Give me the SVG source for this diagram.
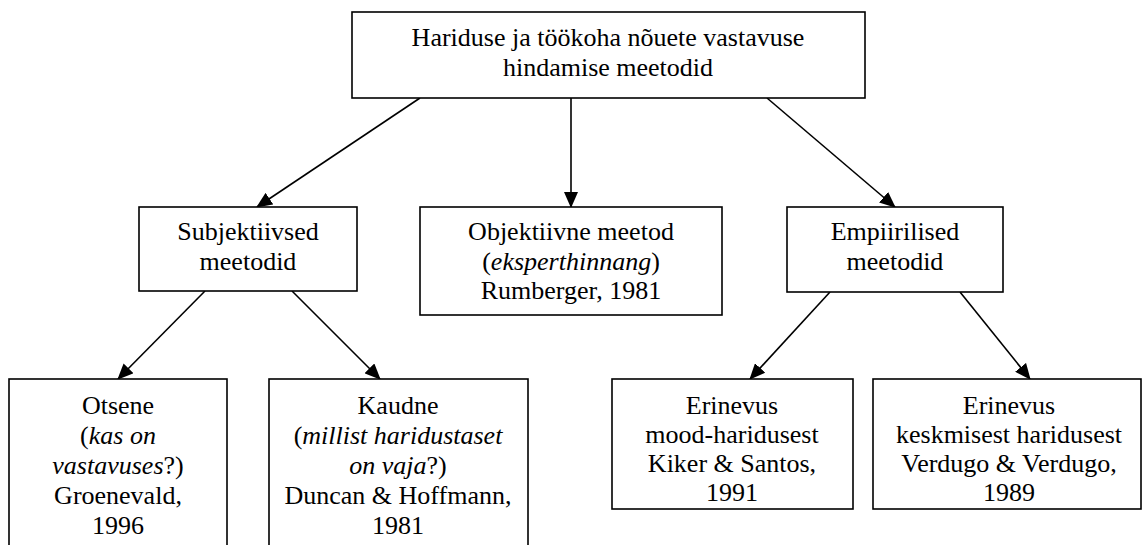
<svg xmlns="http://www.w3.org/2000/svg" width="1143" height="545" viewBox="0 0 1143 545">
<style>
.box{fill:#fff;stroke:#000;stroke-width:1.6}
text{font-family:'Liberation Serif','DejaVu Serif',serif;font-size:26px;fill:#000;text-anchor:middle}
.i{font-style:italic}
.c{stroke:#000;stroke-width:1.6;fill:none;marker-end:url(#ah)}
</style>
<defs>
<marker id="ah" markerUnits="userSpaceOnUse" markerWidth="16" markerHeight="14" refX="15" refY="7" orient="auto">
<path d="M0,0 L16,7 L0,14 z" fill="#000"/>
</marker>
</defs>
<g id="connectors">
<line class="c" x1="420" y1="98" x2="257" y2="207"/>
<line class="c" x1="571" y1="98" x2="571" y2="207"/>
<line class="c" x1="767" y1="98" x2="895" y2="207"/>
<line class="c" x1="205" y1="291" x2="118" y2="379"/>
<line class="c" x1="292" y1="291" x2="380" y2="379"/>
<line class="c" x1="830" y1="292" x2="750" y2="379"/>
<line class="c" x1="960" y1="292" x2="1030" y2="379"/>
</g>
<g id="root">
<rect class="box" x="352" y="12" width="513" height="86"/>
<text x="608" y="46">Hariduse ja töökoha nõuete vastavuse</text>
<text x="608" y="76">hindamise meetodid</text>
</g>
<g id="subjektiivsed">
<rect class="box" x="139" y="207" width="218" height="84"/>
<text x="248" y="240">Subjektiivsed</text>
<text x="248" y="270">meetodid</text>
</g>
<g id="objektiivne">
<rect class="box" x="420" y="207" width="302" height="108"/>
<text x="571" y="240">Objektiivne meetod</text>
<text x="571" y="270">(<tspan class="i">eksperthinnang</tspan>)</text>
<text x="571" y="299">Rumberger, 1981</text>
</g>
<g id="empiirilised">
<rect class="box" x="787" y="207" width="216" height="85"/>
<text x="895" y="240">Empiirilised</text>
<text x="895" y="270">meetodid</text>
</g>
<g id="otsene">
<rect class="box" x="9" y="379" width="218" height="180"/>
<text x="118" y="414">Otsene</text>
<text x="118" y="444">(<tspan class="i">kas on</tspan></text>
<text x="118" y="474"><tspan class="i">vastavuses</tspan>?)</text>
<text x="118" y="504">Groenevald,</text>
<text x="118" y="534">1996</text>
</g>
<g id="kaudne">
<rect class="box" x="269" y="379" width="259" height="180"/>
<text x="398" y="414">Kaudne</text>
<text x="398" y="444">(<tspan class="i">millist haridustaset</tspan></text>
<text x="398" y="474"><tspan class="i">on vaja</tspan>?)</text>
<text x="398" y="504">Duncan &amp; Hoffmann,</text>
<text x="398" y="534">1981</text>
</g>
<g id="erinevus-mood">
<rect class="box" x="612" y="379" width="241" height="130"/>
<text x="732" y="414">Erinevus</text>
<text x="732" y="443">mood-haridusest</text>
<text x="732" y="472">Kiker &amp; Santos,</text>
<text x="732" y="501">1991</text>
</g>
<g id="erinevus-keskmine">
<rect class="box" x="873" y="379" width="268" height="130"/>
<text x="1009" y="414">Erinevus</text>
<text x="1009" y="443">keskmisest haridusest</text>
<text x="1009" y="472">Verdugo &amp; Verdugo,</text>
<text x="1009" y="501">1989</text>
</g>
</svg>
